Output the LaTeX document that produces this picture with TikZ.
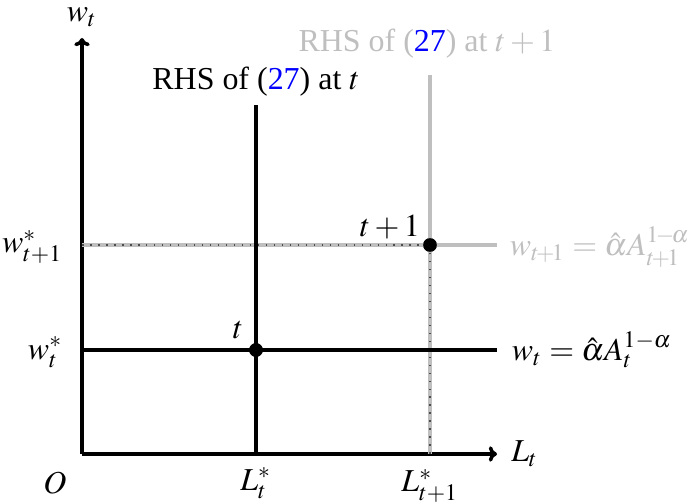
\documentclass[tikz,border=0pt]{standalone}
\usepackage{mathptmx}
\usepackage{fontspec}
\setmainfont{Liberation Serif}
\usetikzlibrary{arrows.meta}
\definecolor{rhsGray}{RGB}{191,191,191}
\definecolor{refBlue}{RGB}{0,0,255}

\begin{document}
\begin{tikzpicture}[x=0.011cm,y=-0.011cm,
  axis/.style={-{To[length=0.9mm,width=1.7mm]},line width=1.1pt},
  rhsline/.style={line width=1.1pt},
  nextline/.style={line width=1.2pt,rhsGray},
  guide/.style={dotted,black!70,line width=0.5pt},
  eqpoint/.style={circle,fill,inner sep=0pt,minimum size=1.5mm}
]
  \useasboundingbox (0,0) rectangle (688,504);
  % axes
  \coordinate (O) at (82,454);
  \coordinate (ytip) at (82,38);
  \coordinate (xtip) at (497,454);
  \draw[axis] (O) -- (xtip);
  \draw[axis] (O) -- (ytip);
  \node (wlab) at (82,17) {$w_t$};
  \node[anchor=west] (Llab) at (500,454) {$L_t$};
  \node (Olab) at (55,483) {$O$};
  % equilibrium points
  \node[eqpoint] (Et) at (256,350) {};
  \node[eqpoint] (Enext) at (430,245) {};
  \coordinate (Ltop) at (256,105);
  \coordinate (Lt) at (256,454);
  \coordinate (Lnexttop) at (430,75);
  \coordinate (Lnext) at (430,454);
  \coordinate (wt) at (82,350);
  \coordinate (wtend) at (497,350);
  \coordinate (wnext) at (82,245);
  \coordinate (wnextend) at (497,245);
  % period t+1 (gray)
  \draw[nextline] (wnext) -- (Enext.center);
  \draw[guide] (wnext) -- (Enext.center);
  \draw[nextline] (Lnext) -- (Enext.center);
  \draw[guide] (Lnext) -- (Enext.center);
  \draw[nextline] (Enext.center) -- (Lnexttop);
  \draw[nextline] (Enext.center) -- (wnextend);
  % period t
  \draw[rhsline] (wt) -- (wtend);
  \draw[rhsline] (Lt) -- (Ltop);
  \node[eqpoint] at (Et) {};
  \node[eqpoint] at (Enext) {};
  % labels
  \node (rhst) at (256,82) {RHS of (\textcolor{refBlue}{27}) at $t$};
  \node[text=rhsGray] (rhsnext) at (427,44) {RHS of (\textcolor{refBlue}{27}) at $t+1$};
  \node (tlab) at (238,330) {$t$};
  \node (tnextlab) at (390,227) {$t+1$};
  \node[anchor=east] (wtstar) at (74,352) {$w_t^*$};
  \node[anchor=east] (wnextstar) at (74,247) {$w_{t+1}^*$};
  \node (Ltstar) at (256,483) {$L_t^*$};
  \node (Lnextstar) at (430,486) {$L_{t+1}^*$};
  \node[anchor=west,inner sep=1pt] (eqt) at (508,350) {$w_t = \hat{\alpha} A_t^{1-\alpha}$};
  \node[anchor=west,inner sep=1pt,text=rhsGray] (eqnext) at (506,247) {$w_{t\!+\!1} = \hat{\alpha} A_{t\!+\!1}^{1\!-\!\alpha}$};
\end{tikzpicture}
\end{document}
